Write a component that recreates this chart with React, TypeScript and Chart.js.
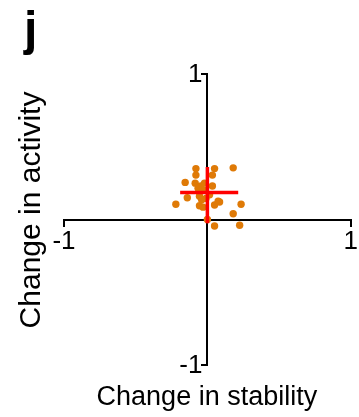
import React, { useEffect, useRef } from "react";
import { Chart, registerables } from "chart.js";

Chart.register(...registerables);

// ---- data ----
const stabilityChange = [
  -0.08, 0.05, 0.18, -0.08, 0.035, -0.155, -0.085, -0.045, 0.035, -0.065,
  -0.02, -0.14, -0.055, -0.01, 0.075, -0.22, -0.055, 0.05, 0.085, 0.235,
  -0.03, 0.18, 0.0, 0.05, 0.225, -0.02, 0.015, -0.04,
];
const activityChange = [
  0.35, 0.35, 0.355, 0.305, 0.305, 0.255, 0.25, 0.23, 0.23, 0.215,
  0.2, 0.15, 0.16, 0.145, 0.125, 0.105, 0.095, 0.1, 0.12, 0.105,
  0.085, 0.04, 0.0, -0.045, -0.04, 0.25, 0.17, 0.135,
];
// mean ± spread cross (red)
const crossHorizontalX = [-0.19, 0.215];
const crossHorizontalY = 0.185;
const crossVerticalX = 0.0;
const crossVerticalY = [-0.025, 0.36];

const xTickValues = [-1, 1];
const yTickValues = [-1, 1];
const xTitle = "Change in stability";
const yTitle = "Change in activity";
const panelLabel = "j";

const FONT = "'Liberation Sans', Arial, Helvetica, sans-serif";
const ORANGE = "#df7a07";
const RED = "#ff0000";

const titlesPlugin = {
  id: "axisTitles",
  afterDraw(chart: any) {
    const { ctx, chartArea } = chart;
    const xs = chart.scales.x;
    const ys = chart.scales.y;
    ctx.save();
    ctx.fillStyle = "#000";

    // y tick labels, placed left of the centred y axis
    ctx.font = `26px ${FONT}`;
    ctx.textAlign = "right";
    ctx.textBaseline = "middle";
    const axisX = xs.getPixelForValue(0);
    yTickValues.forEach((v) => {
      ctx.fillText(String(v), axisX - 5, ys.getPixelForValue(v) + 1);
    });

    ctx.font = `27px ${FONT}`;
    ctx.textAlign = "center";
    ctx.textBaseline = "alphabetic";
    ctx.fillText(xTitle, (chartArea.left + chartArea.right) / 2 - 0.5, 405);
    ctx.save();
    ctx.font = `30px ${FONT}`;
    ctx.translate(40, 210);
    ctx.rotate(-Math.PI / 2);
    ctx.fillText(yTitle, 0, 0);
    ctx.restore();
    ctx.font = `bold 48px ${FONT}`;
    ctx.textAlign = "left";
    ctx.fillText(panelLabel, 24, 45);
    ctx.restore();
  },
};

export default function App() {
  const ref = useRef<HTMLCanvasElement | null>(null);

  useEffect(() => {
    if (!ref.current) return;
    const points = stabilityChange.map((x, i) => ({ x, y: activityChange[i] }));
    const chart = new Chart(ref.current, {
      type: "scatter",
      data: {
        datasets: [
          {
            type: "line",
            data: crossHorizontalX.map((x) => ({ x, y: crossHorizontalY })),
            borderColor: RED,
            borderWidth: 3.5,
            pointRadius: 0,
            fill: false,
            order: 0,
          } as any,
          {
            type: "line",
            data: crossVerticalY.map((y) => ({ x: crossVerticalX, y })),
            borderColor: RED,
            borderWidth: 3.5,
            pointRadius: 0,
            fill: false,
            order: 0,
          } as any,
          {
            data: points,
            backgroundColor: ORANGE,
            borderWidth: 0,
            pointRadius: 3.7,
            order: 1,
          },
        ],
      },
      options: {
        responsive: false,
        animation: false,
        events: [],
        layout: { padding: { left: 64, right: 7, top: 74, bottom: 52 } },
        plugins: {
          legend: { display: false },
          tooltip: { enabled: false },
        },
        scales: {
          x: {
            type: "linear",
            min: -1,
            max: 1,
            position: { y: 0 } as any,
            afterBuildTicks: (scale: any) => {
              scale.ticks = xTickValues.map((value) => ({ value }));
            },
            grid: {
              drawOnChartArea: false,
              drawTicks: true,
              tickLength: 6,
              color: "#000",
              lineWidth: 2,
            },
            border: { display: true, color: "#000", width: 2 },
            ticks: {
              color: "#000",
              font: { size: 26, family: FONT },
              padding: 1,
              maxRotation: 0,
              autoSkip: false,
            },
          },
          y: {
            type: "linear",
            min: -1,
            max: 1,
            position: { x: 0 } as any,
            afterBuildTicks: (scale: any) => {
              scale.ticks = yTickValues.map((value) => ({ value }));
            },
            grid: {
              drawOnChartArea: false,
              drawTicks: true,
              tickLength: 5,
              color: "#000",
              lineWidth: 2,
            },
            border: { display: true, color: "#000", width: 2 },
            ticks: {
              display: false,
            },
          },
        },
      },
      plugins: [titlesPlugin],
    });
    return () => chart.destroy();
  }, []);

  return (
    <div style={{ position: "fixed", left: 0, top: 0, width: 359, height: 417, background: "#fff" }}>
      <canvas ref={ref} width={359} height={417} style={{ width: 359, height: 417, display: "block" }} />
    </div>
  );
}
